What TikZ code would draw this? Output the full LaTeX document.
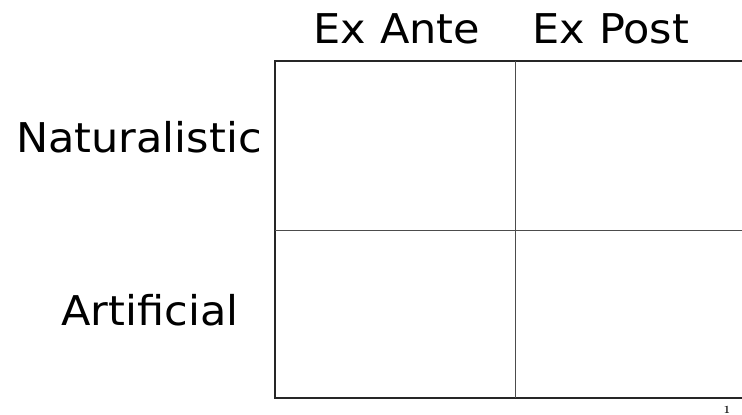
\documentclass[tikz,border=0pt]{standalone}
\usepackage{fontspec}
\setsansfont[FakeStretch=1.05]{DejaVu Sans}
\usetikzlibrary{positioning}
\begin{document}
\begin{tikzpicture}[x=1pt,y=-1pt]
\tikzstyle{grid} = [line width=1.8pt, color = black!85] % outer border of the table
\tikzstyle{divider} = [line width=0.9pt, color = black!70] % inner cell lines
\tikzstyle{heading} = [font = \sffamily\fontsize{41}{44}\selectfont, inner sep = 0pt, anchor = base] % row and column labels
\useasboundingbox (0,0) rectangle (742,415); % fix picture size
\draw[grid](742,61)-|(275,398)--(742,398); % top, left and bottom border
\draw[divider](515,61)--(515,398); % middle vertical line
\draw[divider](275,230)--(742,230); % middle horizontal line
\node(ante)[heading] at (397,43){Ex Ante}; % first column
\node(post)[heading] at (611,43){Ex Post}; % second column
\node(natural)[heading, anchor = base east] at (262,152){Naturalistic}; % first row
\node(artificial)[heading] at (150,325){Artificial}; % second row
\node(page)[font = \bfseries\fontsize{11}{13}\selectfont, inner sep = 0pt, anchor = base] at (727,413){1}; % page number
\end{tikzpicture}
\end{document}
